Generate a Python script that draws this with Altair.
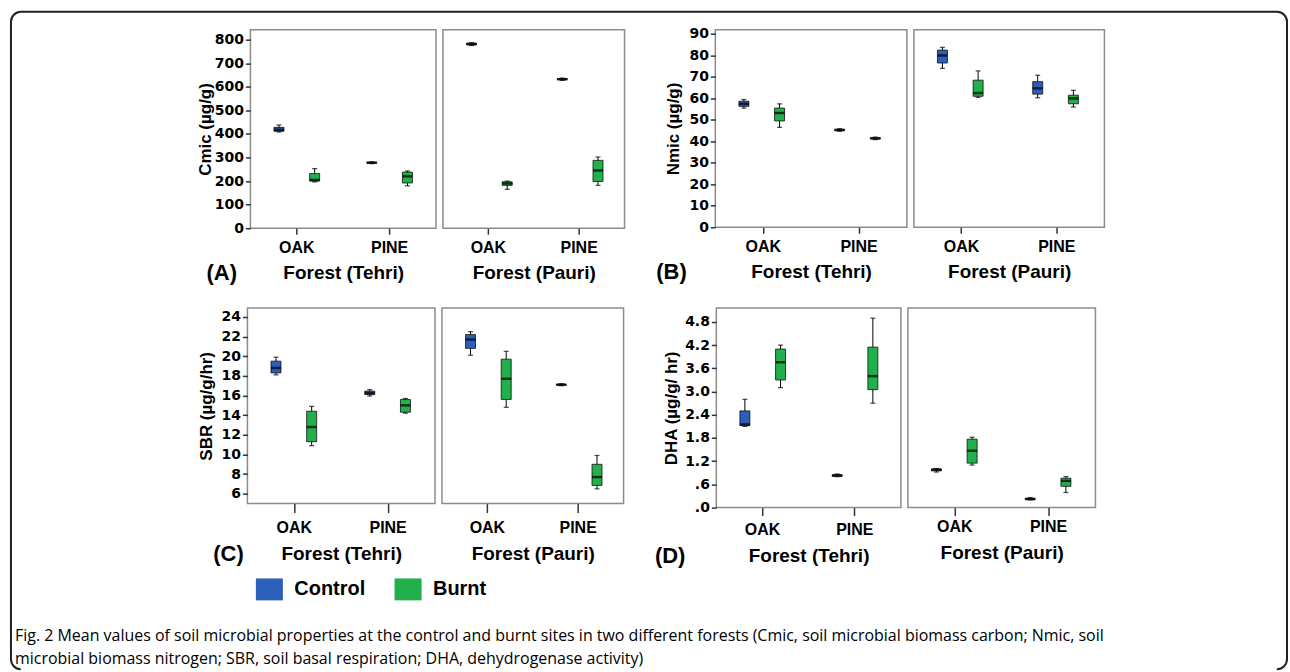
import altair as alt
import pandas as pd

# ---------------- data ----------------
forests = ["OAK", "PINE"]
sites = ["Tehri", "Pauri"]
groups = ["Control", "Burnt"]

# row order: Tehri-OAK-Control, Tehri-OAK-Burnt, Tehri-PINE-Control, Tehri-PINE-Burnt,
#            Pauri-OAK-Control, Pauri-OAK-Burnt, Pauri-PINE-Control, Pauri-PINE-Burnt
cmic_min = [408, 197, 274, 180, 775, 165, 627, 182]
cmic_q1 = [411, 200, 276, 192, 778, 182, 630, 198]
cmic_med = [418, 205, 278, 220, 781, 190, 632, 245]
cmic_q3 = [428, 232, 280, 238, 785, 197, 635, 288]
cmic_max = [438, 253, 282, 243, 787, 200, 637, 302]

nmic_min = [55.5, 46.5, 44.7, 40.8, 74.0, 60.5, 60.3, 56.0]
nmic_q1 = [56.3, 49.5, 45.0, 41.1, 76.5, 61.0, 62.0, 57.5]
nmic_med = [57.5, 53.2, 45.3, 41.4, 80.0, 62.5, 64.7, 60.0]
nmic_q3 = [58.7, 55.5, 45.6, 41.7, 82.5, 68.5, 67.8, 61.5]
nmic_max = [59.5, 57.5, 45.9, 42.0, 83.8, 72.8, 70.8, 63.8]

sbr_min = [18.1, 10.9, 15.95, 14.2, 20.1, 14.8, 17.0, 6.5]
sbr_q1 = [18.3, 11.3, 16.1, 14.3, 20.8, 15.6, 17.05, 6.85]
sbr_med = [18.8, 12.8, 16.25, 15.0, 21.7, 17.7, 17.1, 7.7]
sbr_q3 = [19.5, 14.4, 16.45, 15.6, 22.2, 19.7, 17.15, 9.0]
sbr_max = [19.9, 14.9, 16.6, 15.7, 22.5, 20.5, 17.2, 9.9]

dha_min = [2.10, 3.10, 0.80, 2.70, 0.92, 1.10, 0.20, 0.39]
dha_q1 = [2.12, 3.30, 0.81, 3.05, 0.95, 1.15, 0.21, 0.55]
dha_med = [2.15, 3.76, 0.83, 3.40, 0.98, 1.47, 0.22, 0.69]
dha_q3 = [2.50, 4.10, 0.85, 4.15, 1.00, 1.77, 0.24, 0.76]
dha_max = [2.80, 4.20, 0.87, 4.90, 1.01, 1.82, 0.26, 0.80]

cmic_ticks = [0, 100, 200, 300, 400, 500, 600, 700, 800]
nmic_ticks = [0, 10, 20, 30, 40, 50, 60, 70, 80, 90]
sbr_ticks = [6, 8, 10, 12, 14, 16, 18, 20, 22, 24]
dha_ticks = [0, 0.6, 1.2, 1.8, 2.4, 3.0, 3.6, 4.2, 4.8]

colors = ["#2b60ba", "#22b04c"]

caption_lines = [
    "Fig. 2 Mean values of soil microbial properties at the control and burnt sites in two different forests (Cmic, soil microbial biomass carbon; Nmic, soil",
    "microbial biomass nitrogen; SBR, soil basal respiration; DHA, dehydrogenase activity)",
]

FONT = "Liberation Sans"
TICKFONT = "DejaVu Sans"
CAPFONT = "Open Sans"


def frame(lo, q1, med, q3, hi):
    rows = []
    i = 0
    for s in sites:
        for f in forests:
            for g in groups:
                rows.append(dict(site=s, forest=f, group=g, lo=lo[i], q1=q1[i],
                                 med=med[i], q3=q3[i], hi=hi[i]))
                i += 1
    return pd.DataFrame(rows)


df_cmic = frame(cmic_min, cmic_q1, cmic_med, cmic_q3, cmic_max)
df_nmic = frame(nmic_min, nmic_q1, nmic_med, nmic_q3, nmic_max)
df_sbr = frame(sbr_min, sbr_q1, sbr_med, sbr_q3, sbr_max)
df_dha = frame(dha_min, dha_q1, dha_med, dha_q3, dha_max)

legend = alt.Legend(
    orient="none", legendX=248, legendY=568, direction="horizontal", title=None,
    symbolType="M-1.23,-1H1.23V1H-1.23Z", symbolSize=484, symbolStrokeWidth=0,
    symbolOpacity=1, labelFont=FONT, labelFontSize=20, labelFontWeight="bold",
    labelColor="black", labelOffset=14, columnPadding=28, padding=0,
)
cscale = alt.Scale(domain=groups, range=colors)


def sub(df, site, dom, ticks, width, height, show_y, ytitle=None, ytpad=4,
        xtick=6, xlabpad=5, xtitlepad=8, label_expr=None):
    d = df[df.site == site]
    x = alt.X(
        "forest:N", sort=forests,
        scale=alt.Scale(domain=forests, paddingInner=0, paddingOuter=0),
        axis=alt.Axis(
            title=f"Forest ({site})", labelAngle=0, domain=False, ticks=True,
            tickSize=xtick, tickColor="#333", tickWidth=1.5,
            labelFont=FONT, labelFontSize=16, labelFontWeight="bold",
            labelColor="black", labelPadding=xlabpad,
            titleFont=FONT, titleFontSize=19, titleFontWeight="bold",
            titleColor="black", titlePadding=xtitlepad,
        ),
    )
    xo = alt.XOffset("group:N", sort=groups,
                     scale=alt.Scale(domain=groups, paddingOuter=0.3, paddingInner=0))
    if show_y:
        ax = dict(
            values=ticks, title=ytitle, domain=False, ticks=True, tickSize=5,
            tickColor="#333", tickWidth=1.5, grid=False, labelFont=TICKFONT,
            labelFontSize=14, labelFontWeight="bold", labelColor="black",
            labelPadding=2, titleFont=FONT, titleFontSize=17,
            titleFontWeight="bold", titleColor="black", titlePadding=ytpad,
        )
        if label_expr:
            ax["labelExpr"] = label_expr
        yaxis = alt.Axis(**ax)
    else:
        yaxis = None
    ys = alt.Scale(domain=dom, nice=False, zero=False)
    base = alt.Chart(d).encode(x=x, xOffset=xo)
    whisk = base.mark_rule(color="black", strokeWidth=1).encode(
        y=alt.Y("lo:Q", scale=ys, axis=yaxis), y2="hi:Q")
    cap_lo = base.mark_tick(color="black", size=5, thickness=1.2).encode(
        y=alt.Y("lo:Q", scale=ys, axis=yaxis))
    cap_hi = base.mark_tick(color="black", size=5, thickness=1.2).encode(
        y=alt.Y("hi:Q", scale=ys, axis=yaxis))
    box = base.mark_bar(size=10, stroke="#111", strokeWidth=0.8).encode(
        y=alt.Y("q1:Q", scale=ys, axis=yaxis), y2="q3:Q",
        color=alt.Color("group:N", scale=cscale, legend=legend))
    med = base.mark_tick(color="black", size=10, thickness=2.5).encode(
        y=alt.Y("med:Q", scale=ys, axis=yaxis))
    return alt.layer(whisk, cap_lo, cap_hi, box, med).properties(width=width, height=height)


def panel(letter, left, right, dx):
    return alt.hconcat(left, right, spacing=5).properties(
        title=alt.TitleParams(
            letter, orient="bottom", anchor="start", offset=-20, dx=dx,
            font=FONT, fontSize=22, fontWeight="bold", color="black"))


dha_expr = "datum.value < 1 ? replace(format(datum.value, '.1f'), '0.', '.') : format(datum.value, '.1f')"

A = panel("(A)",
          sub(df_cmic, "Tehri", [0, 842], cmic_ticks, 186, 199, True, "Cmic (µg/g)", ytpad=0),
          sub(df_cmic, "Pauri", [0, 842], cmic_ticks, 182, 199, False), dx=11)
B = panel("(B)",
          sub(df_nmic, "Tehri", [0, 92], nmic_ticks, 192, 198, True, "Nmic (µg/g)", ytpad=6),
          sub(df_nmic, "Pauri", [0, 92], nmic_ticks, 191, 198, False), dx=-8)
C = panel("(C)",
          sub(df_sbr, "Tehri", [5, 24.9], sbr_ticks, 188, 196, True, "SBR (µg/g/hr)", ytpad=6,
              xtick=9, xlabpad=7, xtitlepad=9),
          sub(df_sbr, "Pauri", [5, 24.9], sbr_ticks, 182, 196, False, xtick=9, xlabpad=7,
              xtitlepad=9), dx=17)
D = panel("(D)",
          sub(df_dha, "Tehri", [0, 5.16], dha_ticks, 185, 200, True, "DHA (µg/g/ hr)", ytpad=4,
              xtick=8, xlabpad=6, xtitlepad=9, label_expr=dha_expr),
          sub(df_dha, "Pauri", [0, 5.16], dha_ticks, 188, 200, False, xtick=8, xlabpad=3,
              xtitlepad=9), dx=-7)

blank = pd.DataFrame({"v": [0]})


def spacer(w):
    return alt.Chart(blank).mark_point(opacity=0).encode(
        x=alt.value(0), y=alt.value(0)).properties(
        width=w, height=1, view=alt.ViewBackground(stroke=None, fill=None))


row1 = alt.hconcat(spacer(155), A, B, spacing=30)
row2 = alt.hconcat(spacer(155), C, D, spacing=30)

inner = alt.vconcat(row1, row2, spacing=21)

# decorative outer frame (rounded, open at the bottom like the cropped figure),
# which also carries the caption text
BW, BH, R = 1279, 659, 10
edge = BW - 2 * R
side = BH - 2 * R
arc = 3.14159 * R / 2
frame_dash = [edge + arc + side + arc, edge, arc + side + arc + 4000]
border = alt.Chart(blank).mark_rect(
    fill=None, stroke="#222", strokeWidth=2, cornerRadius=R, strokeDash=frame_dash
).encode(
    x=alt.value(0), x2=alt.value(BW), y=alt.value(0), y2=alt.value(BH)
).properties(
    width=1, height=1, view=alt.ViewBackground(stroke=None, fill=None),
    title=alt.TitleParams(
        caption_lines, orient="bottom", anchor="start", frame="group", offset=-42, dx=4,
        font=CAPFONT, fontSize=16, fontWeight="normal", color="black", lineHeight=23),
)

chart = alt.vconcat(border, inner, spacing=17, bounds="flush").properties(
    padding={"left": 8, "top": 10, "right": 2, "bottom": 0},
    background="white",
).configure_view(
    stroke="#8c8c8c", strokeWidth=1.5
)

chart.save("out.html", embed_options={"renderer": "svg", "actions": False})
